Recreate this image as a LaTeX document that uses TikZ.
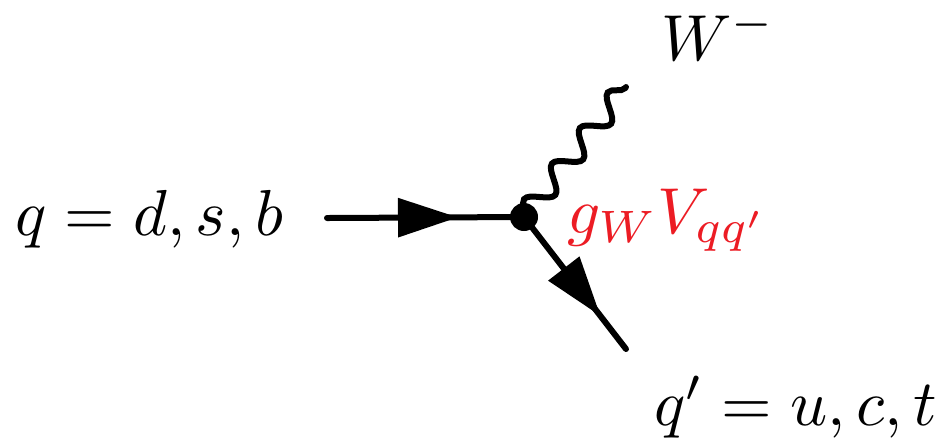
\documentclass[tikz,border=0pt]{standalone}
\usetikzlibrary{arrows.meta,decorations.pathmorphing,decorations.markings}
\definecolor{cpred}{RGB}{236,28,36}
\tikzset{
  fermion/.style={line width=3pt, line cap=round},
  arrowat/.style={postaction={decorate},
    decoration={markings, mark=at position #1 with {\arrow{Triangle[length=30pt,width=19pt]}}}},
  boson/.style={line width=3pt, line cap=round, decorate,
    decoration={snake, amplitude=5.5pt, segment length=22.6pt}},
  vertexdot/.style={circle, fill=black, inner sep=0pt, minimum size=14pt},
  lbl/.style={inner sep=0pt, scale=3.25},
}
\begin{document}
\begin{tikzpicture}[x=0.5pt,y=-0.5pt]
\useasboundingbox (0,0) rectangle (945,441);
\coordinate (qin) at (327,218);
\coordinate (qout) at (626,349);
\coordinate (wend) at (626,87);
\coordinate (vc) at (524,217);
\draw[boson] (vc) -- (wend);
\draw[fermion, arrowat=0.665] (qin) -- (vc);
\draw[fermion, arrowat=0.75] (vc) -- (qout);
\node[vertexdot] (v) at (vc) {};
\node[lbl, anchor=base west] (lq) at (14,235) {$q = d, s, b$};
\node[lbl, anchor=base west, text=cpred] (lg) at (566,233) {$g_W V_{qq'}$};
\node[lbl, anchor=base west] (lw) at (660,60) {$W^-$};
\node[lbl, anchor=base west] (lqp) at (653,425) {$q' = u, c, t$};
\end{tikzpicture}
\end{document}
